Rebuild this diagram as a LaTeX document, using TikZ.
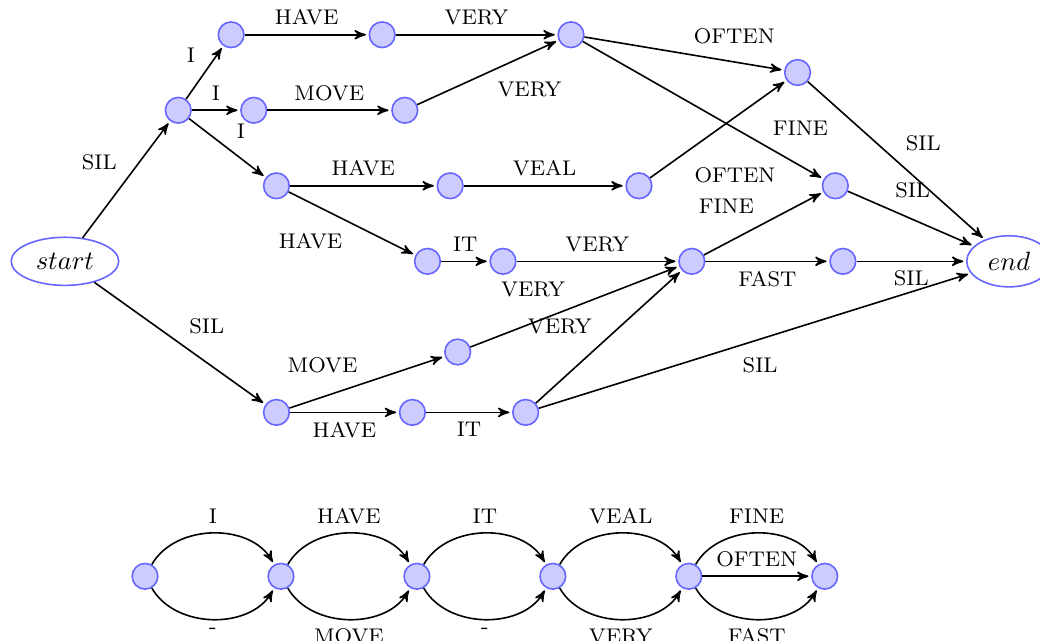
\documentclass[tikz,border=0pt]{standalone}
\usepackage{amsmath}
\usepackage{xcolor}
\usepackage{tikz}
\usetikzlibrary{arrows,automata,positioning,shapes.geometric}

\tikzset{
  word/.style={circle,draw=blue!60,fill=blue!20,inner sep=0pt,minimum size=3.4mm},
  term/.style={ellipse,draw=blue!60,font=\normalsize}
}

\begin{document}
\begin{tikzpicture}[->,>=stealth',shorten >=1pt,auto,node distance=1.8cm,
  semithick,font=\footnotesize]

\useasboundingbox (-0.86,-5.02) rectangle (12.91,3.46);

% word lattice
\node[term] (Q_s) at (0,0) {$start$};
\node[word] (Q_1) at (1.5,2) {};
\node[word] (Q_2) at (2.2,3) {};
\node[word] (Q_3) at (2.5,2) {};
\node[word] (Q_4) at (2.8,1) {};
\node[word] (Q_5) at (4.2,3) {};
\node[word] (Q_6) at (6.7,3) {};
\node[word] (Q_7) at (4.5,2) {};
\node[word] (Q_8) at (5.1,1) {};
\node[word] (Q_9) at (7.6,1) {};
\node[word] (Q_10) at (9.7,2.5) {};
\node[word] (Q_11) at (10.2,1) {};
\node[word] (Q_12) at (4.8,0) {};
\node[word] (Q_13) at (5.8,0) {};
\node[word] (Q_14) at (8.3,0) {};
\node[word] (Q_15) at (10.3,0) {};
\node[word] (Q_16) at (2.8,-2) {};
\node[word] (Q_17) at (5.2,-1.2) {};
\node[word] (Q_18) at (4.6,-2) {};
\node[word] (Q_19) at (6.1,-2) {};
\node[term] (Q_e) at (12.5,0) {$end$};

\path
  (Q_s) edge              node {SIL} (Q_1)
  (Q_s) edge              node {SIL} (Q_16)

  (Q_1) edge              node {I} (Q_2)
  (Q_1) edge              node {I} (Q_3)
  (Q_1) edge              node {I} (Q_4)

  (Q_2) edge              node {HAVE} (Q_5)
  (Q_5) edge              node {VERY} (Q_6)
  (Q_3) edge              node {MOVE} (Q_7)
  (Q_7) edge              node [swap] {VERY} (Q_6)
  (Q_4) edge              node {HAVE} (Q_8)
  (Q_8) edge              node {VEAL} (Q_9)
  (Q_4) edge              node [swap] {HAVE} (Q_12)

  (Q_6) edge              node {OFTEN} (Q_10)
  (Q_6) edge              node [pos=0.75] {FINE} (Q_11)
  (Q_9) edge              node [swap,pos=0.2,xshift=1mm] {OFTEN} (Q_10)
  (Q_10) edge             node {SIL} (Q_e)
  (Q_11) edge             node [pos=0.3] {SIL} (Q_e)

  (Q_12) edge             node {IT} (Q_13)
  (Q_13) edge             node {VERY} (Q_14)
  (Q_14) edge             node {FINE} (Q_11)
  (Q_14) edge             node [swap] {FAST} (Q_15)
  (Q_15) edge             node [swap] {SIL} (Q_e)

  (Q_16) edge             node {MOVE} (Q_17)
  (Q_16) edge             node [swap] {HAVE} (Q_18)
  (Q_18) edge             node [swap] {IT} (Q_19)
  (Q_17) edge             node {VERY} (Q_14)
  (Q_19) edge             node [pos=0.45] {VERY} (Q_14)
  (Q_19) edge             node [swap,pos=0.45] {SIL} (Q_e)
;

% confusion network
\node[word] (C_0) at (1.06,-4.17) {};
\node[word] (C_1) [right of=C_0] {};
\node[word] (C_2) [right of=C_1] {};
\node[word] (C_3) [right of=C_2] {};
\node[word] (C_4) [right of=C_3] {};
\node[word] (C_5) [right of=C_4] {};

\path
  (C_0) edge [bend left=60]  node {I} (C_1)
  (C_0) edge [bend right=60] node [swap] {-} (C_1)
  (C_1) edge [bend left=60]  node {HAVE} (C_2)
  (C_1) edge [bend right=60] node [swap] {MOVE} (C_2)
  (C_2) edge [bend left=60]  node {IT} (C_3)
  (C_2) edge [bend right=60] node [swap] {-} (C_3)
  (C_3) edge [bend left=60]  node {VEAL} (C_4)
  (C_3) edge [bend right=60] node [swap] {VERY} (C_4)
  (C_4) edge [bend left=60]  node {FINE} (C_5)
  (C_4) edge                 node {OFTEN} (C_5)
  (C_4) edge [bend right=60] node [swap] {FAST} (C_5)
;
\end{tikzpicture}
\end{document}
